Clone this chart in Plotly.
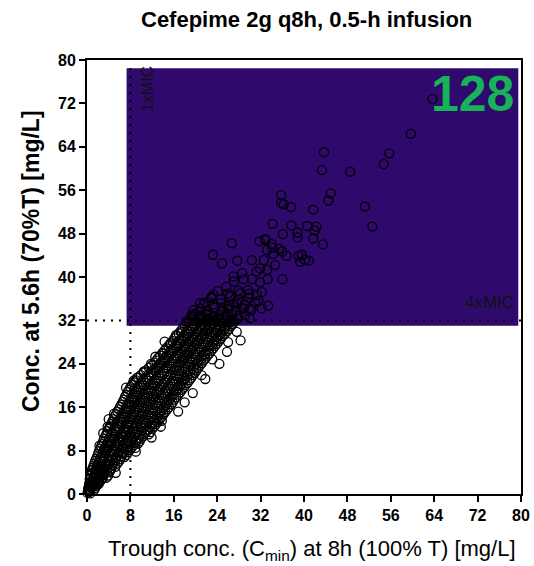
import plotly.graph_objects as go

# ---------------- data ----------------
chart_title = "Cefepime 2g q8h, 0.5-h infusion"
x_title = "Trough conc. (C<sub>min</sub>) at 8h (100% T) [mg/L]"
y_title = "Conc. at 5.6h (70%T) [mg/L]"
tick_values = [0, 8, 16, 24, 32, 40, 48, 56, 64, 72, 80]
mic_label_1x = "1xMIC"
mic_label_4x = "4xMIC"
mic_value = "128"
mic_1x_trough = 8
mic_4x_conc = 32
target_box_x = [7.3, 79.5]
target_box_y = [31.0, 78.5]

# dense band of simulated patients (trough conc, conc at 5.6 h)
trough_band = [
    0.1, 0.3, 0.6,
    0.2, 0.5, 0.9, 1.3,
    0.4, 0.8, 1.2, 1.7, 2.1,
    0.5, 1.0, 1.5, 2.0, 2.6,
    0.7, 1.2, 1.8, 2.4, 3.0, 3.6,
    0.9, 1.5, 2.1, 2.8, 3.4, 4.1,
    1.2, 1.8, 2.5, 3.1, 3.8, 4.5,
    1.5, 2.1, 2.8, 3.5, 4.2, 4.9, 5.6,
    1.9, 2.5, 3.2, 3.9, 4.6, 5.3, 6.1,
    2.2, 2.9, 3.6, 4.4, 5.1, 5.8, 6.6, 7.3,
    2.6, 3.3, 4.1, 4.8, 5.6, 6.4, 7.1, 7.9,
    3.0, 3.8, 4.6, 5.4, 6.2, 7.0, 7.8, 8.6, 9.4,
    3.4, 4.2, 5.0, 5.8, 6.7, 7.5, 8.3, 9.1, 9.9,
    3.8, 4.6, 5.5, 6.3, 7.2, 8.0, 8.9, 9.7, 10.6, 11.4,
    4.2, 5.1, 6.0, 6.9, 7.7, 8.6, 9.5, 10.3, 11.2, 12.0,
    4.7, 5.6, 6.5, 7.4, 8.3, 9.2, 10.1, 11.0, 11.9, 12.7,
    5.1, 6.1, 7.0, 7.9, 8.8, 9.7, 10.7, 11.6, 12.5, 13.4,
    5.6, 6.6, 7.5, 8.5, 9.4, 10.3, 11.3, 12.2, 13.2, 14.1,
    6.1, 7.1, 8.0, 9.0, 10.0, 10.9, 11.9, 12.9, 13.8, 14.8,
    6.6, 7.6, 8.6, 9.6, 10.5, 11.5, 12.5, 13.5, 14.5, 15.5,
    7.0, 8.1, 9.1, 10.1, 11.1, 12.1, 13.1, 14.1, 15.1, 16.1,
    7.5, 8.6, 9.6, 10.6, 11.7, 12.7, 13.7, 14.8, 15.8, 16.8,
    8.0, 9.1, 10.2, 11.2, 12.3, 13.3, 14.4, 15.4, 16.5, 17.5,
    8.6, 9.7, 10.8, 11.8, 12.9, 14.0, 15.0, 16.1, 17.2, 18.2,
    9.4, 10.4, 11.4, 12.5, 13.5, 14.6, 15.7, 16.8, 17.8, 18.9,
    10.4, 11.3, 12.2, 13.2, 14.2, 15.3, 16.3, 17.4, 18.5, 19.5,
    11.4, 12.3, 13.2, 14.1, 15.0, 16.0, 17.0, 18.1, 19.1, 20.2,
    12.4, 13.2, 14.0, 14.9, 15.8, 16.8, 17.8, 18.8, 19.8, 20.8,
    13.1, 14.0, 14.8, 15.7, 16.6, 17.6, 18.5, 19.5, 20.5, 21.5,
    13.9, 14.7, 15.6, 16.5, 17.4, 18.3, 19.3, 20.2, 21.2, 22.2,
    14.6, 15.5, 16.4, 17.3, 18.2, 19.1, 20.0, 21.0, 21.9, 22.9,
    15.4, 16.3, 17.1, 18.0, 18.9, 19.8, 20.8, 21.7, 22.7, 23.6,
    16.1, 17.0, 17.9, 18.8, 19.7, 20.6, 21.5, 22.4, 23.4, 24.3,
    16.9, 17.8, 18.6, 19.5, 20.4, 21.3, 22.2, 23.1, 24.1, 25.0,
    17.6, 18.5, 19.4, 20.3, 21.2, 22.1, 23.0, 23.9, 24.8, 25.8,
    18.4, 19.3, 20.1, 21.0, 21.9, 22.8, 23.7, 24.6, 25.5, 26.5,
    19.2, 20.0, 20.9, 21.8, 22.7, 23.6, 24.5, 25.4, 26.3, 27.2,
    19.8, 21.0, 22.1, 23.3, 24.4, 25.6, 26.7, 27.9, 29.1,
    20.9, 22.2, 23.5, 24.8, 26.1, 27.5, 28.9, 30.3,
    21.8, 23.3, 24.7, 26.2, 27.7, 29.1, 31.0,
    22.9, 24.6, 26.3, 28.0, 29.8, 31.6,
    24.1, 26.0, 27.9, 29.9, 32.2,
]
conc_band = [
    0.2, 0.5, 0.1,
    1.0, 0.8, 1.2, 0.7,
    1.9, 1.6, 2.0, 1.5, 1.8,
    2.7, 2.4, 2.8, 2.3, 2.6,
    3.5, 3.1, 3.6, 3.2, 3.5, 3.0,
    4.4, 4.0, 4.3, 3.9, 4.2, 4.0,
    5.2, 4.8, 5.1, 4.9, 5.3, 4.7,
    6.1, 5.8, 6.2, 5.7, 6.0, 5.8, 5.6,
    7.0, 6.7, 7.1, 6.6, 6.9, 6.7, 6.4,
    7.9, 7.6, 8.0, 7.5, 7.8, 7.6, 7.4, 7.2,
    8.8, 8.5, 8.9, 8.4, 8.7, 8.5, 8.3, 8.1,
    9.8, 9.4, 9.7, 9.3, 9.6, 9.4, 9.2, 9.0, 9.3,
    10.7, 10.3, 10.6, 10.2, 10.5, 10.3, 10.1, 9.9, 10.2,
    11.6, 11.2, 11.5, 11.1, 11.4, 11.2, 11.0, 10.9, 11.1, 11.0,
    12.5, 12.1, 12.4, 12.0, 12.3, 12.1, 11.9, 12.2, 11.9, 12.0,
    13.4, 13.0, 13.3, 12.9, 13.2, 13.0, 12.8, 13.1, 12.8, 12.9,
    14.3, 13.9, 14.2, 13.8, 14.1, 13.9, 13.7, 14.0, 13.7, 13.8,
    15.2, 14.8, 15.1, 14.7, 15.0, 14.8, 14.6, 14.9, 14.6, 14.7,
    16.1, 15.7, 16.0, 15.6, 15.9, 15.7, 15.5, 15.8, 15.5, 15.6,
    17.0, 16.6, 16.9, 16.5, 16.8, 16.6, 16.4, 16.7, 16.4, 16.5,
    17.9, 17.5, 17.8, 17.4, 17.7, 17.5, 17.3, 17.6, 17.3, 17.4,
    18.8, 18.4, 18.7, 18.3, 18.6, 18.4, 18.2, 18.5, 18.2, 18.3,
    19.7, 19.3, 19.6, 19.2, 19.5, 19.3, 19.1, 19.4, 19.1, 19.2,
    20.6, 20.2, 20.5, 20.1, 20.4, 20.2, 20.0, 20.3, 20.0, 20.1,
    21.5, 21.1, 21.4, 21.0, 21.3, 21.1, 20.9, 21.2, 20.9, 21.0,
    22.4, 22.0, 22.3, 21.9, 22.2, 22.0, 21.8, 22.1, 21.8, 21.9,
    23.3, 22.9, 23.2, 22.8, 23.1, 22.9, 22.7, 23.0, 22.7, 22.8,
    24.2, 23.8, 24.1, 23.7, 24.0, 23.8, 23.6, 23.9, 23.6, 23.7,
    25.1, 24.7, 25.0, 24.6, 24.9, 24.7, 24.5, 24.8, 24.5, 24.6,
    26.0, 25.6, 25.9, 25.5, 25.8, 25.6, 25.4, 25.7, 25.4, 25.5,
    26.9, 26.5, 26.8, 26.4, 26.7, 26.5, 26.3, 26.6, 26.3, 26.4,
    27.8, 27.4, 27.7, 27.3, 27.6, 27.4, 27.2, 27.5, 27.2, 27.3,
    28.7, 28.3, 28.6, 28.2, 28.5, 28.3, 28.1, 28.4, 28.1, 28.2,
    29.6, 29.2, 29.5, 29.1, 29.4, 29.2, 29.0, 29.3, 29.0, 29.1,
    30.5, 30.1, 30.4, 30.0, 30.3, 30.1, 29.9, 30.2, 29.9, 30.0,
    31.4, 31.0, 31.3, 30.9, 31.2, 31.0, 30.8, 31.1, 30.8, 30.9,
    32.3, 31.9, 32.2, 31.8, 32.1, 31.9, 31.7, 32.0, 31.7, 31.8,
    33.2, 32.9, 33.3, 32.8, 33.1, 32.9, 33.2, 32.8, 33.0,
    34.2, 33.8, 34.3, 33.9, 34.1, 33.8, 34.2, 33.9,
    35.3, 34.9, 35.2, 34.8, 35.1, 34.9, 35.4,
    36.3, 35.9, 36.4, 35.8, 36.2, 35.6,
    37.4, 37.0, 37.5, 36.9, 37.2,
]

# second, interleaved layer of the same dense band
trough_band2 = [
    0.2, 0.45,
    0.35, 0.7, 1.1, 1.5,
    0.6, 1.0, 1.45, 1.9, 2.3,
    0.75, 1.25, 1.75, 2.3, 2.9,
    0.95, 1.5, 2.1, 2.7, 3.3, 3.9,
    1.05, 1.8, 2.45, 3.1, 3.75, 4.3,
    1.35, 2.0, 2.65, 3.3, 4.0, 4.7, 5.2,
    1.7, 2.45, 3.15, 3.85, 4.55, 5.25, 5.9,
    2.05, 2.85, 3.4, 4.15, 4.95, 5.65, 6.35, 6.9,
    2.4, 3.1, 3.85, 4.6, 5.35, 6.1, 6.85, 7.6,
    2.8, 3.55, 4.45, 5.2, 6.0, 6.7, 7.45, 8.25, 8.9,
    3.2, 4.2, 5.0, 5.8, 6.6, 7.4, 8.2, 9.0, 9.7,
    3.6, 4.4, 5.25, 6.25, 7.1, 7.9, 8.7, 9.5, 10.3,
    4.0, 5.05, 5.9, 6.75, 7.6, 8.45, 9.3, 10.15, 11.0, 11.7,
    4.45, 5.55, 6.45, 7.3, 8.15, 9.05, 9.9, 10.75, 11.6, 12.4,
    4.9, 5.85, 6.75, 7.65, 8.55, 9.45, 10.4, 11.3, 12.2, 13.1,
    5.35, 6.35, 7.25, 8.2, 9.1, 10.0, 10.95, 11.9, 12.85, 13.8,
    5.85, 6.85, 7.75, 8.75, 9.7, 10.6, 11.6, 12.55, 13.5, 14.4,
    6.35, 7.35, 8.3, 9.3, 10.25, 11.2, 12.2, 13.15, 14.15, 15.1,
    6.8, 7.85, 8.85, 9.85, 10.8, 11.8, 12.8, 13.8, 14.8, 15.8,
    7.25, 8.35, 9.35, 10.35, 11.4, 12.4, 13.4, 14.45, 15.45, 16.45,
    7.75, 8.85, 9.9, 10.9, 12.0, 13.0, 14.05, 15.1, 16.15, 17.15,
    8.3, 9.4, 10.5, 11.5, 12.6, 13.65, 14.7, 15.75, 16.85, 17.85,
    9.0, 10.05, 11.1, 12.15, 13.2, 14.3, 15.35, 16.45, 17.5, 18.55,
    9.9, 10.85, 11.8, 12.85, 13.85, 14.95, 16.0, 17.1, 18.15, 19.2,
    10.9, 11.8, 12.7, 13.65, 14.75, 15.8, 16.85, 17.95, 19.0, 19.85,
    11.9, 12.75, 13.6, 14.5, 15.5, 16.5, 17.55, 18.6, 19.65, 20.5,
    12.75, 13.6, 14.45, 15.35, 16.3, 17.3, 18.3, 19.3, 20.3, 21.15,
    13.5, 14.35, 15.2, 16.1, 17.1, 18.05, 19.0, 20.0, 21.0, 21.85,
    14.25, 15.15, 16.0, 16.9, 17.85, 18.8, 19.75, 20.7, 21.7, 22.55,
    15.0, 15.9, 16.85, 17.75, 18.65, 19.55, 20.5, 21.45, 22.4, 23.25,
    15.75, 16.7, 17.55, 18.45, 19.35, 20.3, 21.25, 22.2, 23.15, 23.95,
    16.5, 17.45, 18.35, 19.25, 20.15, 21.05, 21.95, 22.9, 23.85, 24.65,
    17.25, 18.2, 19.05, 19.95, 20.85, 21.75, 22.65, 23.6, 24.55, 25.4,
    18.0, 18.95, 19.85, 20.75, 21.65, 22.55, 23.45, 24.35, 25.3, 26.15,
    18.8, 19.7, 20.5, 21.4, 22.3, 23.2, 24.1, 25.0, 25.9, 26.85,
    19.5, 20.45, 21.35, 22.25, 23.15, 24.05, 24.95, 25.85, 26.75, 27.7,
]
conc_band2 = [
    0.6, 0.4,
    1.4, 1.2, 1.5, 1.1,
    2.2, 2.0, 2.3, 1.9, 2.1,
    3.0, 2.8, 3.1, 2.7, 2.9,
    3.9, 3.6, 3.8, 3.5, 3.8, 3.4,
    4.8, 4.4, 4.7, 4.3, 4.6, 4.3,
    5.6, 5.3, 5.6, 5.2, 5.5, 5.3, 5.0,
    6.5, 6.2, 6.6, 6.1, 6.4, 6.2, 6.0,
    7.4, 7.1, 7.5, 7.0, 7.3, 7.1, 6.9, 6.8,
    8.3, 8.0, 8.4, 7.9, 8.2, 8.0, 7.8, 7.7,
    9.2, 8.9, 9.3, 8.8, 9.1, 8.9, 8.7, 8.6, 8.5,
    10.2, 9.8, 10.1, 9.7, 10.0, 9.8, 9.6, 9.5, 9.7,
    11.1, 10.7, 11.0, 10.6, 10.9, 10.7, 10.5, 10.4, 10.6,
    12.0, 11.6, 11.9, 11.5, 11.8, 11.6, 11.4, 11.6, 11.5, 11.4,
    12.9, 12.5, 12.8, 12.4, 12.7, 12.5, 12.3, 12.6, 12.3, 12.4,
    13.8, 13.4, 13.7, 13.3, 13.6, 13.4, 13.2, 13.5, 13.2, 13.3,
    14.7, 14.3, 14.6, 14.2, 14.5, 14.3, 14.1, 14.4, 14.1, 14.2,
    15.6, 15.2, 15.5, 15.1, 15.4, 15.2, 15.0, 15.3, 15.0, 15.1,
    16.5, 16.1, 16.4, 16.0, 16.3, 16.1, 15.9, 16.2, 15.9, 16.0,
    17.4, 17.0, 17.3, 16.9, 17.2, 17.0, 16.8, 17.1, 16.8, 16.9,
    18.3, 17.9, 18.2, 17.8, 18.1, 17.9, 17.7, 18.0, 17.7, 17.8,
    19.2, 18.8, 19.1, 18.7, 19.0, 18.8, 18.6, 18.9, 18.6, 18.7,
    20.1, 19.7, 20.0, 19.6, 19.9, 19.7, 19.5, 19.8, 19.5, 19.6,
    21.0, 20.6, 20.9, 20.5, 20.8, 20.6, 20.4, 20.7, 20.4, 20.5,
    21.9, 21.5, 21.8, 21.4, 21.7, 21.5, 21.3, 21.6, 21.3, 21.4,
    22.8, 22.4, 22.7, 22.3, 22.6, 22.4, 22.2, 22.5, 22.2, 22.3,
    23.7, 23.3, 23.6, 23.2, 23.5, 23.3, 23.1, 23.4, 23.1, 23.2,
    24.6, 24.2, 24.5, 24.1, 24.4, 24.2, 24.0, 24.3, 24.0, 24.1,
    25.5, 25.1, 25.4, 25.0, 25.3, 25.1, 24.9, 25.2, 24.9, 25.0,
    26.4, 26.0, 26.3, 25.9, 26.2, 26.0, 25.8, 26.1, 25.8, 25.9,
    27.3, 26.9, 27.2, 26.8, 27.1, 26.9, 26.7, 27.0, 26.7, 26.8,
    28.2, 27.8, 28.1, 27.7, 28.0, 27.8, 27.6, 27.9, 27.6, 27.7,
    29.1, 28.7, 29.0, 28.6, 28.9, 28.7, 28.5, 28.8, 28.5, 28.6,
    30.0, 29.6, 29.9, 29.5, 29.8, 29.6, 29.4, 29.7, 29.4, 29.5,
    30.9, 30.5, 30.8, 30.4, 30.7, 30.5, 30.3, 30.6, 30.3, 30.4,
    31.8, 31.4, 31.7, 31.3, 31.6, 31.4, 31.2, 31.5, 31.2, 31.3,
    32.7, 32.4, 32.7, 32.3, 32.6, 32.4, 32.2, 32.5, 32.2, 32.3,
]

# sparse patients above the band, ragged band edges and scattered outliers
trough_tail = [
    63.7, 59.7, 43.7, 55.7, 54.7, 43.3, 48.5, 44.9, 44.5, 35.8,
    35.8, 36.3, 37.6, 41.7, 51.2, 52.6, 34.2, 37.7, 40.6, 42.3,
    42.0, 36.1, 38.8, 38.8, 32.8, 41.7, 43.5, 26.7, 31.8, 32.9,
    34.0, 34.2, 33.2, 35.4, 36.0, 36.8, 34.3, 23.2, 24.9, 27.7,
    30.4, 32.6, 39.0, 39.6, 39.3, 40.9, 40.2, 34.7, 33.2, 31.9,
    31.3, 28.6, 27.0, 36.0, 27.1, 25.7, 28.9, 30.4, 31.9, 33.3,
    31.3, 29.7, 28.2, 26.4, 23.3, 23.0, 21.4, 20.8, 19.6, 19.3,
    22.1, 23.3, 25.1, 26.0, 27.0, 28.5, 30.0, 32.2, 33.4, 30.0,
    26.4, 24.5,
    14.3, 14.1, 9.2, 13.8, 3.8, 2.3, 28.3, 25.8, 27.6, 23.1,
    21.1, 6.5, 17.5, 15.3, 26.0,
    5.0, 7.2, 10.5, 11.8, 12.6, 16.4, 18.3, 4.0, 3.0, 8.6,
    16.8, 19.5, 21.8, 24.4, 11.9, 9.0, 5.3, 13.6, 18.0,
]
conc_tail = [
    72.8, 66.4, 63.0, 62.8, 60.8, 59.7, 59.4, 55.4, 54.1, 55.1,
    53.6, 53.4, 52.9, 52.4, 53.0, 49.3, 49.8, 49.5, 49.4, 49.3,
    48.6, 47.9, 48.2, 47.3, 47.0, 47.1, 46.0, 46.2, 46.6, 46.8,
    46.1, 45.4, 45.0, 45.2, 44.7, 43.9, 44.2, 44.1, 42.5, 43.0,
    43.1, 43.1, 43.9, 44.1, 42.8, 43.0, 43.2, 42.2, 41.3, 41.6,
    41.0, 40.7, 40.1, 39.6, 39.2, 38.2, 39.6, 39.6, 39.0, 39.6,
    36.7, 37.6, 37.0, 36.4, 36.7, 36.1, 35.0, 35.2, 33.9, 33.0,
    33.0, 32.8, 34.2, 34.5, 35.2, 34.2, 34.2, 34.2, 34.7, 32.4,
    32.1, 32.1,
    28.1, 25.9, 21.4, 13.5, 12.4, 8.9, 28.3, 26.2, 29.9, 24.8,
    21.9, 7.5, 29.8, 27.6, 28.0,
    14.8, 19.6, 22.6, 24.0, 25.3, 29.3, 31.8, 13.8, 11.2, 20.9,
    15.2, 18.6, 21.2, 24.0, 10.4, 7.8, 3.9, 12.4, 16.9,
]

trough = trough_band + trough_band2 + trough_tail
conc = conc_band + conc_band2 + conc_tail

# ---------------- figure ----------------
FONT = "Liberation Sans, Arial, Helvetica, sans-serif"
W, H = 534, 566
ML, MR, MT, MB = 87, 13, 60, 72
PW, PH = W - ML - MR, H - MT - MB


def px_to_paper_x(px):
    return (px - ML) / PW


def px_to_paper_y(py):
    return (H - MB - py) / PH


fig = go.Figure()
fig.add_trace(go.Scatter(
    x=trough, y=conc, mode="markers",
    marker=dict(symbol="circle-open", size=9, color="black",
                line=dict(width=1.3, color="black")),
    cliponaxis=False, showlegend=False, hoverinfo="skip",
))

shapes = [
    dict(type="rect", xref="x", yref="y",
         x0=target_box_x[0], x1=target_box_x[1],
         y0=target_box_y[0], y1=target_box_y[1],
         fillcolor="#2f0a6c", line=dict(width=0), layer="below"),
    dict(type="line", xref="x", yref="y",
         x0=mic_1x_trough, x1=mic_1x_trough, y0=0, y1=79,
         line=dict(color="black", width=2, dash="2px,6px"), layer="below"),
    dict(type="line", xref="x", yref="y",
         x0=0, x1=80, y0=mic_4x_conc, y1=mic_4x_conc,
         line=dict(color="black", width=2, dash="2px,6px"), layer="below"),
]

annotations = [
    dict(text=chart_title, xref="paper", yref="paper",
         x=px_to_paper_x(306), y=px_to_paper_y(20),
         xanchor="center", yanchor="middle", showarrow=False,
         font=dict(family=FONT, size=22, color="black", weight="bold")),
    dict(text=x_title, xref="paper", yref="paper",
         x=px_to_paper_x(312), y=px_to_paper_y(550),
         xanchor="center", yanchor="middle", showarrow=False,
         font=dict(family=FONT, size=22, color="black")),
    dict(text=y_title, xref="paper", yref="paper",
         x=px_to_paper_x(31), y=px_to_paper_y(261),
         xanchor="center", yanchor="middle", showarrow=False, textangle=-90,
         font=dict(family=FONT, size=23, color="black", weight="bold")),
    dict(text=mic_label_1x, xref="x", yref="y", x=11.2, y=74.6,
         xanchor="center", yanchor="middle", showarrow=False, textangle=-90,
         font=dict(family=FONT, size=16, color="#111111")),
    dict(text=mic_label_4x, xref="x", yref="y", x=79.0, y=35.3,
         xanchor="right", yanchor="middle", showarrow=False,
         font=dict(family=FONT, size=17, color="#111111")),
    dict(text=mic_value, xref="x", yref="y", x=79.0, y=73.7,
         xanchor="right", yanchor="middle", showarrow=False,
         font=dict(family=FONT, size=50, color="#17b25a", weight="bold")),
]

axis_common = dict(
    range=[0, 80], tickmode="array", tickvals=tick_values,
    ticktext=[str(v) for v in tick_values],
    showgrid=False, zeroline=False, automargin=False,
    showline=True, linecolor="black", linewidth=2, mirror=True,
    ticks="outside", ticklen=6, tickwidth=2, tickcolor="black",
    tickfont=dict(family=FONT, size=16, color="black", weight="bold"),
)

fig.update_layout(
    width=W, height=H,
    margin=dict(l=ML, r=MR, t=MT, b=MB, pad=0, autoexpand=False),
    paper_bgcolor="white", plot_bgcolor="white",
    xaxis=dict(**axis_common),
    yaxis=dict(**axis_common),
    shapes=shapes, annotations=annotations,
    showlegend=False,
)

fig.write_html("out.html")
